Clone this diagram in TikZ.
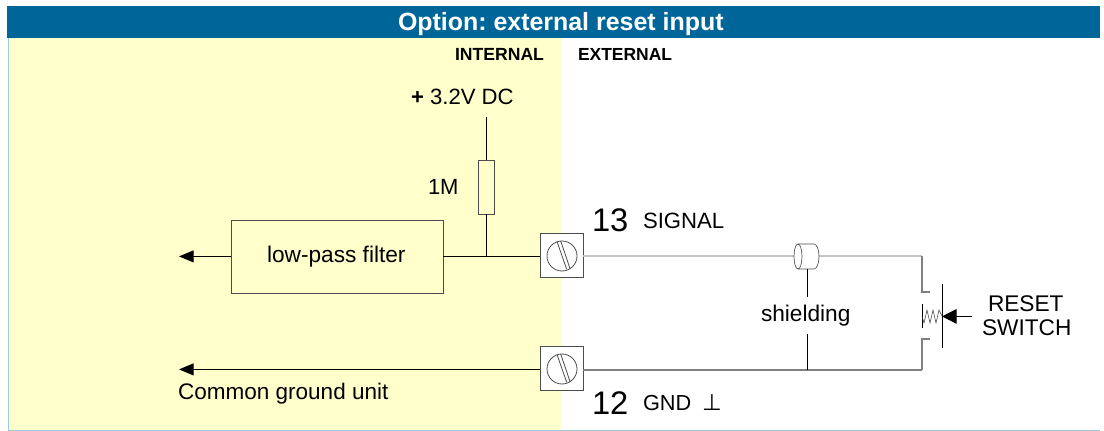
\documentclass[tikz,border=0pt]{standalone}
\usepackage{fontspec}
\setmainfont{Liberation Sans}
\newfontfamily\symfont{DejaVu Sans}
\usetikzlibrary{arrows.meta}
\definecolor{headblue}{HTML}{006699}
\definecolor{paleyellow}{HTML}{FFFFCC}
\definecolor{edgeblue}{HTML}{99CCDD}
\definecolor{wirelight}{HTML}{C4C4C4}
\definecolor{wiredark}{HTML}{808080}
\newcommand{\fsz}[1]{\fontsize{#1}{#1}\selectfont}
\frenchspacing
\tikzset{
  x=0.75pt,y=-0.75pt,
  txt/.style={inner sep=0pt,outer sep=0pt,anchor=base west,text=black},
  wire/.style={draw=black,line width=0.75pt},
  thin wire/.style={draw=black!75,line width=0.5pt},
  shieldlight/.style={draw=wirelight,line width=1.1pt},
  shielddark/.style={draw=wiredark,line width=1.1pt},
  leftarrow/.style={wire,-{Triangle[length=11pt,width=9pt]}},
  comp/.style={draw=black!70,line width=0.6pt,inner sep=0pt,outer sep=0pt},
  terminal/.style={comp,fill=white,minimum width=32.5pt,minimum height=33.5pt},
}
\begin{document}
\begin{tikzpicture}
\useasboundingbox (0,0) rectangle (1104,431);
% backgrounds
\fill[white] (0,0) rectangle (1104,431);
\fill[paleyellow] (8,38) rectangle (562,430);
\draw[edgeblue,line width=0.8pt] (8.5,38) -- (8.5,430.5) -- (1100,430.5);
\fill[headblue] (7,6) rectangle (1100,38);
\node[txt,text=white,font=\bfseries\fsz{18.7}] (title) at (398,31) {Option: external reset input};
\node[txt,font=\bfseries\fsz{13.2}] (internal) at (455,61) {INTERNAL};
\node[txt,font=\bfseries\fsz{13.1}] (external) at (578,61) {EXTERNAL};
% components
\node[comp,minimum width=159pt,minimum height=54.75pt,anchor=north west] (filter) at (231,220) {};
\node[txt,font=\fsz{17}] (filtertext) at (267,262.5) {low-pass filter};
\node[comp,fill=paleyellow,minimum width=12pt,minimum height=40.5pt,anchor=north west] (res) at (478,160) {};
\node[terminal,anchor=north west] (t13) at (540,233) {};
\node[terminal,anchor=north west] (t12) at (540,346) {};
\foreach \t/\cy in {t13/256,t12/369}{
  \draw[comp] (562,\cy) circle [radius=15];
  \draw[comp] (557,\cy-14.5) -- (566.7,\cy+13.3);
  \draw[comp] (560.7,\cy-15) -- (570,\cy+12.5);
}
% labels
\node[txt,font=\fsz{16.6}] (vdc) at (411,105) {\textbf{+} 3.2V DC};
\node[txt,font=\fsz{16.5}] (oneM) at (428,195) {1M};
\node[txt,font=\fsz{24.5}] (n13) at (592,232) {13};
\node[txt,font=\fsz{16.6}] (signal) at (643,228.5) {SIGNAL};
\node[txt,font=\fsz{24.5}] (n12) at (592,414) {12};
\node[txt,font=\fsz{16.3}] (gnd) at (643,410) {GND};
\node[txt,font=\symfont\fsz{17}] (perp) at (702,410) {⊥};
\node[txt,font=\fsz{17}] (shield) at (761,321) {shielding};
\node[txt,font=\fsz{17}] (reset) at (988,311) {RESET};
\node[txt,font=\fsz{17}] (switch) at (982,335) {SWITCH};
\node[txt,font=\fsz{16.9}] (common) at (178,399) {Common ground unit};
% coordinates
\coordinate (vtop) at (486,117);
\coordinate (junc) at (486,256.4);
\coordinate (outA) at (179,256.4);
\coordinate (outB) at (179,369.4);
\coordinate (sigcorner) at (922,256);
\coordinate (gndcorner) at (922,370);
\coordinate (cylL) at (794,256);
\coordinate (cylR) at (819,256);
\coordinate (shtop) at (807,269);
\coordinate (shmid) at (807,297);
\coordinate (shlow) at (807,334);
\coordinate (shbot) at (807,370);
\coordinate (contactA) at (930,292);
\coordinate (contactB) at (930,339);
\coordinate (barT) at (942,284);
\coordinate (barB) at (942,348);
\coordinate (pushEnd) at (972,316.4);
\coordinate (pushTip) at (942,316.4);
\coordinate (fixT) at (922,304);
\coordinate (fixB) at (922,328);
% wiring
\draw[wire] (vtop) -- (res.north);
\draw[wire] (res.south) -- (junc);
\draw[wire] (filter.east |- junc) -- (t13.west |- junc);
\draw[leftarrow] (filter.west |- outA) -- (outA);
\draw[leftarrow] (t12.west |- outB) -- (outB);
\draw[shieldlight] (t13.east |- cylL) -- (cylL);
\draw[shieldlight] (cylR) -- (sigcorner);
\draw[shielddark] (t12.east |- gndcorner) -- (gndcorner);
\draw[shielddark,line width=0.8pt] (sigcorner) |- (contactA);
\draw[shielddark,line width=0.8pt] (gndcorner) |- (contactB);
% shield cylinder
\draw[comp,line width=0.5pt] (798,244) -- (814,244) arc[start angle=-90,end angle=90,x radius=5,y radius=12.5] -- (798,269) arc[start angle=90,end angle=270,x radius=4,y radius=12.5];
\draw[comp,line width=0.5pt] (798,244) arc[start angle=-90,end angle=90,x radius=4,y radius=12.5];
\draw[wire] (shtop) -- (shmid);
\draw[wire] (shlow) -- (shbot);
% switch
\draw[wire,line width=0.7pt] (fixT) -- (fixB);
\draw[wire,line width=0.7pt] (barT) -- (barB);
\draw[thin wire,line width=0.4pt] (922,316) -- (924,323) -- (927,310) -- (930,323) -- (933,310) -- (936,323) -- (939,310) -- (942,316);
\draw[wire,-{Triangle[length=11pt,width=11pt]}] (pushEnd) -- (pushTip);
\end{tikzpicture}
\end{document}
